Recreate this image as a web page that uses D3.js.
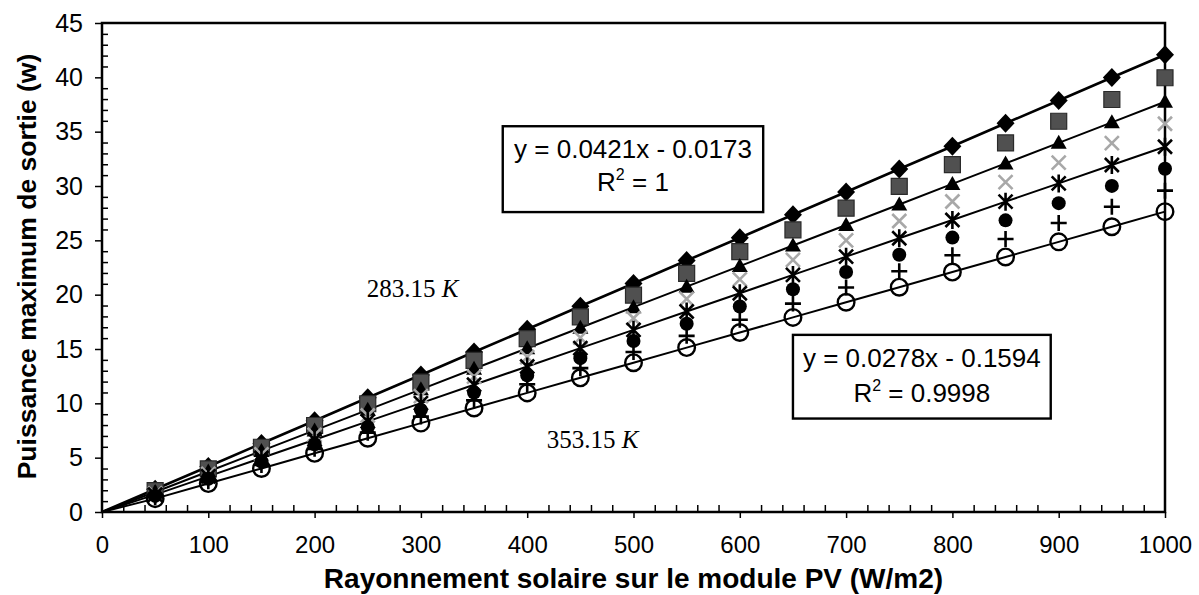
<!DOCTYPE html>
<html>
<head>
<meta charset="utf-8">
<script src="https://cdn.jsdelivr.net/npm/d3@7"></script>
<style>
	body { margin: 0; background: #fff; }
	text { font-family: "Liberation Sans", Arial, sans-serif; fill: #000; }
</style>
</head>
<body>
<div id="chart"></div>
<script>
// Irradiance (W/m2) at which each measurement was taken
const irradiance = [50, 100, 150, 200, 250, 300, 350, 400, 450, 500, 550, 600, 650, 700, 750, 800, 850, 900, 950, 1000];

// Maximum output power (W), one list per cell temperature
const power283 = [2.09, 4.19, 6.30, 8.40, 10.51, 12.61, 14.72, 16.82, 18.93, 21.03, 23.14, 25.24, 27.35, 29.45, 31.56, 33.66, 35.77, 37.87, 39.98, 42.08];
const power293 = [1.96, 3.96, 5.96, 7.96, 9.96, 11.96, 13.96, 15.96, 17.96, 19.96, 21.96, 23.96, 25.96, 27.96, 29.96, 31.96, 33.96, 35.96, 37.96, 39.96];
const power303 = [1.84, 3.73, 5.62, 7.51, 9.40, 11.29, 13.18, 15.07, 16.96, 18.85, 20.74, 22.63, 24.52, 26.41, 28.30, 30.19, 32.08, 33.97, 35.86, 37.75];
const power313 = [1.72, 3.51, 5.30, 7.09, 8.88, 10.67, 12.46, 14.25, 16.04, 17.83, 19.62, 21.41, 23.20, 24.99, 26.78, 28.57, 30.36, 32.15, 33.94, 35.73];
const power323 = [1.60, 3.28, 4.97, 6.65, 8.34, 10.02, 11.71, 13.39, 15.08, 16.76, 18.45, 20.13, 21.82, 23.50, 25.19, 26.87, 28.56, 30.24, 31.93, 33.61];
const power333 = [1.48, 3.06, 4.65, 6.23, 7.82, 9.40, 10.99, 12.57, 14.16, 15.74, 17.33, 18.91, 20.50, 22.08, 23.67, 25.25, 26.84, 28.42, 30.01, 31.59];
const power343 = [1.36, 2.84, 4.33, 5.81, 7.30, 8.78, 10.27, 11.75, 13.24, 14.72, 16.21, 17.69, 19.18, 20.66, 22.15, 23.63, 25.12, 26.60, 28.09, 29.57];
const power353 = [1.23, 2.62, 4.01, 5.40, 6.79, 8.18, 9.57, 10.96, 12.35, 13.74, 15.13, 16.52, 17.91, 19.30, 20.69, 22.08, 23.47, 24.86, 26.25, 27.64];

const allSeries = [power283, power293, power303, power313, power323, power333, power343, power353];
// series that carry a drawn trend line (index in allSeries)
const trendSeries = [0, 2, 4, 7];

const xTicks = [0, 100, 200, 300, 400, 500, 600, 700, 800, 900, 1000];
const yTicks = [0, 5, 10, 15, 20, 25, 30, 35, 40, 45];

const fitEquations = ["y = 0.0421x - 0.0173", "y = 0.0278x - 0.1594"];
const fitR2 = ["1", "0.9998"];
const tempLabels = ["283.15", "353.15"];

const xTitle = "Rayonnement solaire sur le module PV (W/m2)";
const yTitle = "Puissance maximum de sortie (w)";

class ScatterChart {

	constructor() {
		this.margin = {top: 23, right: 34, bottom: 83, left: 102};
		this.width = 1199 - this.margin.left - this.margin.right;
		this.height = 595 - this.margin.top - this.margin.bottom;
		// marker per series, same order as allSeries
		this.markers = ["diamond", "square", "triangle", "cross", "star", "dot", "plus", "ring"];
		this.initVis();
	}

	initVis() {
		let vis = this;

		vis.svg = d3.select("#chart").append("svg")
			.attr("width", 1199)
			.attr("height", 595)
			.append("g")
			.attr("transform", `translate(${vis.margin.left},${vis.margin.top})`);

		vis.x = d3.scaleLinear().domain([0, 1000]).range([0, vis.width]);
		vis.y = d3.scaleLinear().domain([0, 45]).range([vis.height, 0]);

		// minor ticks, pointing inside the plot
		const xMinor = d3.range(0, 1001, 20).filter(d => d % 100 !== 0);
		const yMinor = d3.range(0, 46, 1).filter(d => d % 5 !== 0);

		vis.svg.append("g")
			.attr("class", "minor")
			.attr("transform", `translate(0,${vis.height})`)
			.call(d3.axisBottom(vis.x).tickValues(xMinor).tickSize(-7).tickFormat(""));
		vis.svg.append("g")
			.attr("class", "minor")
			.call(d3.axisLeft(vis.y).tickValues(yMinor).tickSize(-6).tickFormat(""));
		vis.svg.selectAll(".minor .domain").remove();
		vis.svg.selectAll(".minor line").attr("stroke", "#000").attr("stroke-width", 1.3);

		// major axes
		vis.xAxisG = vis.svg.append("g")
			.attr("transform", `translate(0,${vis.height})`)
			.call(d3.axisBottom(vis.x).tickValues(xTicks).tickFormat(d3.format("d"))
				.tickSize(6).tickPadding(18).tickSizeOuter(0));
		vis.yAxisG = vis.svg.append("g")
			.call(d3.axisLeft(vis.y).tickValues(yTicks).tickFormat(d3.format("d"))
				.tickSize(7).tickPadding(12).tickSizeOuter(0));

		vis.xAxisG.selectAll(".tick text").style("font-size", "24px");
		vis.yAxisG.selectAll(".tick text").style("font-size", "25px");
		vis.svg.selectAll(".tick line").attr("stroke", "#000").attr("stroke-width", 1.5);
		vis.svg.selectAll(".domain").remove();

		// plot frame
		vis.svg.append("rect")
			.attr("width", vis.width)
			.attr("height", vis.height)
			.attr("fill", "none")
			.attr("stroke", "#000")
			.attr("stroke-width", 2.5);

		// axis titles
		vis.svg.append("text")
			.attr("x", vis.width / 2)
			.attr("y", vis.height + 76)
			.attr("text-anchor", "middle")
			.style("font-size", "28px")
			.style("font-weight", "bold")
			.text(xTitle);

		vis.svg.append("text")
			.attr("transform", `translate(${36 - vis.margin.left},${vis.height / 2 - 1}) rotate(-90)`)
			.attr("text-anchor", "middle")
			.style("font-size", "26.5px")
			.style("font-weight", "bold")
			.text(yTitle);

		vis.renderVis();
	}

	markerPath(type) {
		switch (type) {
			case "diamond": return "M0,-9.5L9,0L0,9.5L-9,0Z";
			case "square": return "M-8,-8H8V8H-8Z";
			case "triangle": return "M0,-8L8,6H-8Z";
			case "cross": return "M-7,-7L7,7M-7,7L7,-7";
			case "star": return "M-7,-7L7,7M-7,7L7,-7M0,-9V9";
			case "plus": return "M-8,0H8M0,-8V8";
		}
		return null;
	}

	renderVis() {
		let vis = this;

		const points = allSeries.map(vals => irradiance.map((ir, i) => ({x: ir, y: vals[i]})));

		// trend lines from the origin through the measured points
		const line = d3.line().x(d => vis.x(d.x)).y(d => vis.y(d.y));
		vis.svg.selectAll(".trend")
			.data(trendSeries)
			.join("path")
			.attr("class", "trend")
			.attr("fill", "none")
			.attr("stroke", "#000")
			.attr("stroke-width", (d, i) => i == 0 ? 2.6 : 2)
			.attr("d", d => line([{x: 0, y: 0}].concat(points[d])));

		points.forEach((pts, s) => {
			const type = vis.markers[s];
			const g = vis.svg.append("g").attr("class", "series-" + s);
			const sel = g.selectAll("g")
				.data(pts)
				.join("g")
				.attr("transform", d => `translate(${vis.x(d.x)},${vis.y(d.y)})`);

			if (type == "dot") {
				sel.append("circle").attr("r", 7).attr("fill", "#000");
			} else if (type == "ring") {
				sel.append("circle").attr("r", 8.3).attr("fill", "none")
					.attr("stroke", "#000").attr("stroke-width", 2.4);
			} else if (type == "diamond" || type == "triangle") {
				sel.append("path").attr("d", vis.markerPath(type)).attr("fill", "#000");
			} else if (type == "square") {
				sel.append("path").attr("d", vis.markerPath(type))
					.attr("fill", "#505050").attr("stroke", "#2a2a2a").attr("stroke-width", 1.2);
			} else {
				sel.append("path").attr("d", vis.markerPath(type)).attr("fill", "none")
					.attr("stroke", type == "cross" ? "#a8a8a8" : "#000")
					.attr("stroke-width", 2.6);
			}
		});

		// equation boxes (corners given in data units)
		const boxes = [
			{x0: 377, x1: 622, y0: 35.5, y1: 27.6},
			{x0: 650, x1: 892.5, y0: 16.3, y1: 8.6}
		];
		boxes.forEach((b, i) => {
			const bx = vis.x(b.x0), by = vis.y(b.y0);
			const bw = vis.x(b.x1) - bx, bh = vis.y(b.y1) - by;
			const g = vis.svg.append("g").attr("transform", `translate(${bx},${by})`);
			g.append("rect")
				.attr("width", bw).attr("height", bh)
				.attr("fill", "#fff").attr("stroke", "#000").attr("stroke-width", 2.4);
			g.append("text")
				.attr("x", bw / 2).attr("y", 32)
				.attr("text-anchor", "middle")
				.style("font-size", "26px")
				.text(fitEquations[i]);
			const r = g.append("text")
				.attr("x", bw / 2).attr("y", i == 0 ? 65 : 67)
				.attr("text-anchor", "middle")
				.style("font-size", "26px");
			r.append("tspan").text("R");
			r.append("tspan").attr("dy", -11).style("font-size", "16px").text("2");
			r.append("tspan").attr("dy", 11).text(" = " + fitR2[i]);
		});

		// temperature labels
		const tempPos = [{x: 249, y: 19.8}, {x: 418.5, y: 5.9}];
		tempLabels.forEach((t, i) => {
			const txt = vis.svg.append("text")
				.attr("x", vis.x(tempPos[i].x))
				.attr("y", vis.y(tempPos[i].y))
				.style("font-family", "'Liberation Serif', 'Times New Roman', serif")
				.style("font-size", "25px");
			txt.append("tspan").text(t + " ");
			txt.append("tspan").style("font-style", "italic").text("K");
		});
	}
}

new ScatterChart();
</script>
</body>
</html>
